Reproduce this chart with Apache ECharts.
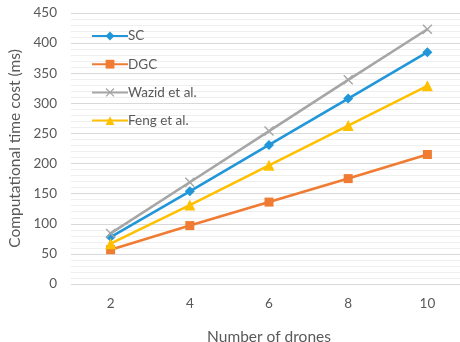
<!DOCTYPE html>
<html>
<head>
<meta charset="utf-8">
<script src="https://cdn.jsdelivr.net/npm/echarts@6/dist/echarts.min.js"></script>
<style>
  html, body { margin: 0; padding: 0; background: #fff; }
  #chart { width: 460px; height: 342px; }
</style>
</head>
<body>
<div id="chart"></div>
<script>
// Computational time cost vs. number of drones
const droneCounts = ['2', '4', '6', '8', '10'];
const scCost    = [78, 154, 231, 308, 385];
const dgcCost   = [57, 97, 136, 175, 215];
const wazidCost = [84, 169, 254, 339, 423];
const fengCost  = [67, 131, 197, 263, 329];

const FONT = 'Lato, "Open Sans", sans-serif';
const TEXT = '#595959';
const crossPath = 'path://M1,0L5,4L9,0L10,1L6,5L10,9L9,10L5,6L1,10L0,9L4,5L0,1Z';

function lineSeries(name, data, color, symbol, size) {
  return {
    name: name,
    type: 'line',
    data: data,
    symbol: symbol,
    symbolSize: size,
    showSymbol: true,
    lineStyle: { color: color, width: 2.6 },
    itemStyle: { color: color },
    emphasis: { disabled: true },
    animation: false
  };
}

const chart = echarts.init(document.getElementById('chart'));
chart.setOption({
  backgroundColor: '#fff',
  animation: false,
  textStyle: { fontFamily: FONT },
  grid: { left: 71, top: 13, width: 396, height: 271, containLabel: false, outerBoundsMode: 'none' },
  legend: {
    orient: 'vertical',
    left: 86,
    top: 24,
    itemWidth: 36,
    itemHeight: 11,
    itemGap: 14.2,
    textStyle: { fontFamily: FONT, fontSize: 13.5, color: TEXT, padding: [0, 0, 0, -5] },
    data: ['SC', 'DGC', 'Wazid et al.', 'Feng et al.']
  },
  xAxis: {
    type: 'category',
    data: droneCounts,
    boundaryGap: true,
    name: 'Number of drones',
    nameLocation: 'middle',
    nameGap: 45,
    nameTextStyle: { fontFamily: FONT, fontSize: 15.5, color: TEXT },
    axisLine: { show: false },
    axisTick: { show: false },
    axisLabel: { fontFamily: FONT, fontSize: 13.5, color: TEXT, margin: 13 },
    splitLine: { show: false }
  },
  yAxis: {
    type: 'value',
    min: 0,
    max: 450,
    interval: 50,
    name: 'Computational time cost (ms)',
    nameLocation: 'middle',
    nameGap: 46,
    nameTextStyle: { fontFamily: FONT, fontSize: 15.5, color: TEXT },
    axisLine: { show: false },
    axisTick: { show: false },
    axisLabel: { fontFamily: FONT, fontSize: 13.5, color: TEXT, margin: 14 },
    splitLine: { show: true, lineStyle: { color: '#d9d9d9', width: 1 } },
    minorTick: { show: false, splitNumber: 5 },
    minorSplitLine: { show: true, lineStyle: { color: '#efefef', width: 1 } }
  },
  series: [
    lineSeries('SC', scCost, '#2196d9', 'diamond', 10),
    lineSeries('DGC', dgcCost, '#f07b32', 'rect', 9),
    lineSeries('Wazid et al.', wazidCost, '#a6a6a6', crossPath, 10),
    lineSeries('Feng et al.', fengCost, '#ffc000', 'triangle', 11)
  ]
});
</script>
</body>
</html>
